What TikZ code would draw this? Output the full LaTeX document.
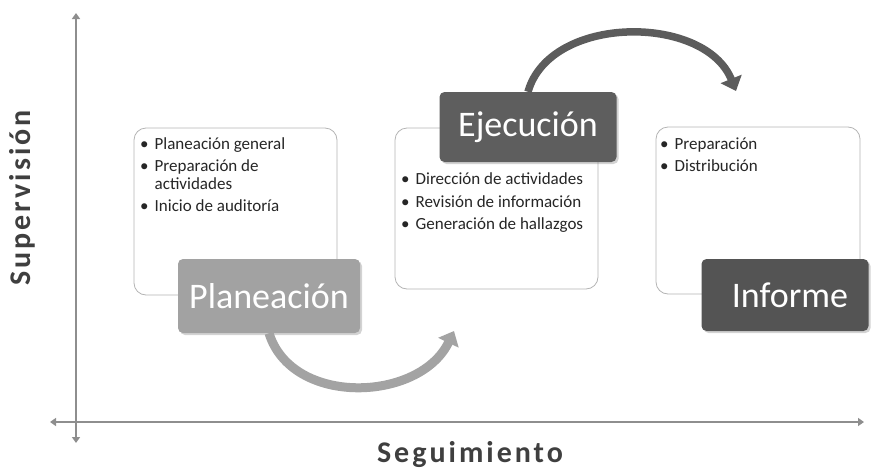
\documentclass[tikz,border=0pt]{standalone}
\usepackage{fontspec}
\setmainfont{Carlito}
\newfontfamily\axisfont[LetterSpace=10]{Carlito}
\usetikzlibrary{arrows.meta, shadows}

\definecolor{axisgray}{HTML}{8E8E8E}
\definecolor{boxline}{HTML}{B4B4B4}
\definecolor{labellight}{HTML}{A2A2A2}
\definecolor{labelmid}{HTML}{5E5E5E}
\definecolor{labeldark}{HTML}{545454}
\definecolor{arrowlight}{HTML}{A3A3A3}
\definecolor{arrowdark}{HTML}{5C5C5C}
\definecolor{axistext}{HTML}{3F3F3F}

\tikzset{
  listbox/.style={draw=boxline, line width=0.8pt, rounded corners=12pt, fill=white},
  listtext/.style={anchor=north west, inner sep=0pt, align=left,
    font=\fontsize{17}{18}\selectfont, text=black!85},
  stagelabel/.style={rounded corners=5pt, minimum height=72pt, text=white,
    font=\fontsize{36}{40}\selectfont,
    drop shadow={opacity=0.35, shadow xshift=2pt, shadow yshift=-2pt}},
  axisline/.style={draw=axisgray, line width=2.4pt,
    {Triangle[width=8pt,length=6pt]}-{Triangle[width=8pt,length=6pt]}},
  bigarrow/.style={line width=9pt, -{Triangle[width=22pt,length=13pt]}},
  axislabel/.style={text=axistext, font=\axisfont\bfseries\fontsize{30}{33}\selectfont}
}

\begin{document}
\begin{tikzpicture}[x=1pt, y=1pt]
\useasboundingbox (0,0) rectangle (872,-474);

% Axes
\coordinate (yTop) at (76,-13);
\coordinate (yBot) at (76,-443);
\coordinate (xLeft) at (50,-422);
\coordinate (xRight) at (864,-422);
\draw[axisline] (yBot) -- (yTop);
\draw[axisline] (xLeft) -- (xRight);
\node[axislabel, rotate=90] (supervision) at (22,-198) {Supervisión};
\node[axislabel] (seguimiento) at (470,-455) {Seguimiento};

% Planeacion list
\draw[listbox] (134,-128) rectangle (337,-295);
\node[listtext] (listPlan) at (140,-137) {%
  \begin{tabular}{@{}l@{\hspace{6pt}}l@{}}
  \textbullet & Planeación general\\[4pt]
  \textbullet & Preparación de\\
              & actividades\\[4pt]
  \textbullet & Inicio de auditoría
  \end{tabular}};

% Ejecucion list
\draw[listbox] (395,-128) rectangle (598,-289);
\node[listtext] (listEjec) at (401,-172) {%
  \begin{tabular}{@{}l@{\hspace{6pt}}l@{}}
  \textbullet & Dirección de actividades\\[4.5pt]
  \textbullet & Revisión de información\\[4.5pt]
  \textbullet & Generación de hallazgos
  \end{tabular}};

% Informe list
\draw[listbox] (656,-127) rectangle (860,-294);
\node[listtext] (listInf) at (660,-137) {%
  \begin{tabular}{@{}l@{\hspace{6pt}}l@{}}
  \textbullet & Preparación\\[4pt]
  \textbullet & Distribución
  \end{tabular}};

% Stage labels
\node[stagelabel, fill=labellight, minimum width=182pt, minimum height=74pt] (plan) at (269,-296) {Planeación};
\node[stagelabel, fill=labelmid, minimum width=177pt, minimum height=70pt] (ejec) at (528,-127) {Ejecución};
\node[stagelabel, fill=labeldark, minimum width=167pt, minimum height=72pt] (inf) at (785,-295) {\hspace*{10pt}Informe};

% Curved arrows
\coordinate (toEjec) at (454,-331);
\coordinate (toInf) at (736,-91);
\draw[bigarrow, arrowlight] (plan.south) .. controls (292,-407) and (420,-402) .. (toEjec);
\draw[bigarrow, arrowdark, line width=7.5pt] (ejec.north) .. controls (550,-14) and (705,-14) .. (toInf);
\end{tikzpicture}
\end{document}
